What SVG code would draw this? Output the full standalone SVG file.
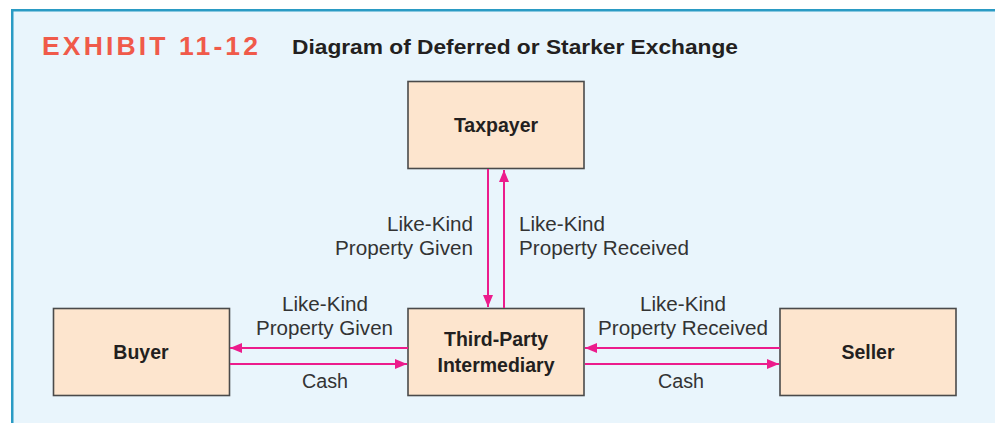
<svg xmlns="http://www.w3.org/2000/svg" width="995" height="423" viewBox="0 0 995 423">
<defs>
<style>
.node rect{fill:#FDE5CE;stroke:#4a4a4a;stroke-width:1.6}
.nt{font-family:"Liberation Sans",Arial,sans-serif;font-weight:bold;font-size:19.5px;fill:#231f20;text-anchor:middle}
.lb{font-family:"Liberation Sans",Arial,sans-serif;font-size:19.5px;fill:#333}
.conn line{stroke:#EC1C8C;stroke-width:2;fill:none}
</style>
<marker id="ah" viewBox="0 0 12 10" refX="12" refY="5" markerWidth="12" markerHeight="10" markerUnits="userSpaceOnUse" orient="auto">
<path d="M0,0 L12,5 L0,10 Z" fill="#EC1C8C"/>
</marker>
</defs>
<rect x="0" y="0" width="995" height="423" fill="#ffffff"/>
<rect x="12" y="10" width="983" height="413" fill="#E9F5FC"/>
<rect x="11" y="9" width="984" height="2.5" fill="#2A9BC4"/>
<rect x="11" y="9" width="2.5" height="414" fill="#2A9BC4"/>
<g id="title">
<text x="42" y="55" font-family="'Liberation Sans',Arial,sans-serif" font-weight="bold" font-size="26.5" fill="#F05A4A" textLength="216" lengthAdjust="spacing">EXHIBIT 11-12</text>
<text x="292" y="54" font-family="'Liberation Sans',Arial,sans-serif" font-weight="bold" font-size="20.5" fill="#231f20" textLength="446" lengthAdjust="spacingAndGlyphs">Diagram of Deferred or Starker Exchange</text>
</g>
<g id="taxpayer" class="node">
<rect x="408" y="81.5" width="176" height="87"/>
<text class="nt" x="496" y="132">Taxpayer</text>
</g>
<g id="buyer" class="node">
<rect x="53.5" y="308.5" width="176" height="87"/>
<text class="nt" x="141" y="359">Buyer</text>
</g>
<g id="intermediary" class="node">
<rect x="408" y="308.5" width="176" height="87"/>
<text class="nt" x="496" y="346">Third-Party</text>
<text class="nt" x="496" y="372">Intermediary</text>
</g>
<g id="seller" class="node">
<rect x="780" y="308.5" width="176" height="87"/>
<text class="nt" x="868" y="359">Seller</text>
</g>
<g id="connectors" class="conn">
<line x1="488" y1="169" x2="488" y2="307" marker-end="url(#ah)"/>
<line x1="504" y1="308" x2="504" y2="170" marker-end="url(#ah)"/>
<line x1="408" y1="348" x2="230" y2="348" marker-end="url(#ah)"/>
<line x1="230" y1="364" x2="407" y2="364" marker-end="url(#ah)"/>
<line x1="780" y1="348" x2="585" y2="348" marker-end="url(#ah)"/>
<line x1="585" y1="364" x2="779" y2="364" marker-end="url(#ah)"/>
</g>
<g id="labels" class="lb">
<text x="473" y="231" text-anchor="end" textLength="86" lengthAdjust="spacingAndGlyphs">Like-Kind</text>
<text x="473" y="255" text-anchor="end" textLength="138" lengthAdjust="spacingAndGlyphs">Property Given</text>
<text x="519" y="231" textLength="86" lengthAdjust="spacingAndGlyphs">Like-Kind</text>
<text x="519" y="255" textLength="170" lengthAdjust="spacingAndGlyphs">Property Received</text>
<text x="282" y="311" textLength="86" lengthAdjust="spacingAndGlyphs">Like-Kind</text>
<text x="256" y="335" textLength="137" lengthAdjust="spacingAndGlyphs">Property Given</text>
<text x="302" y="388" textLength="46" lengthAdjust="spacingAndGlyphs">Cash</text>
<text x="640" y="311" textLength="86" lengthAdjust="spacingAndGlyphs">Like-Kind</text>
<text x="598" y="335" textLength="170" lengthAdjust="spacingAndGlyphs">Property Received</text>
<text x="658" y="388" textLength="46" lengthAdjust="spacingAndGlyphs">Cash</text>
</g>
</svg>
